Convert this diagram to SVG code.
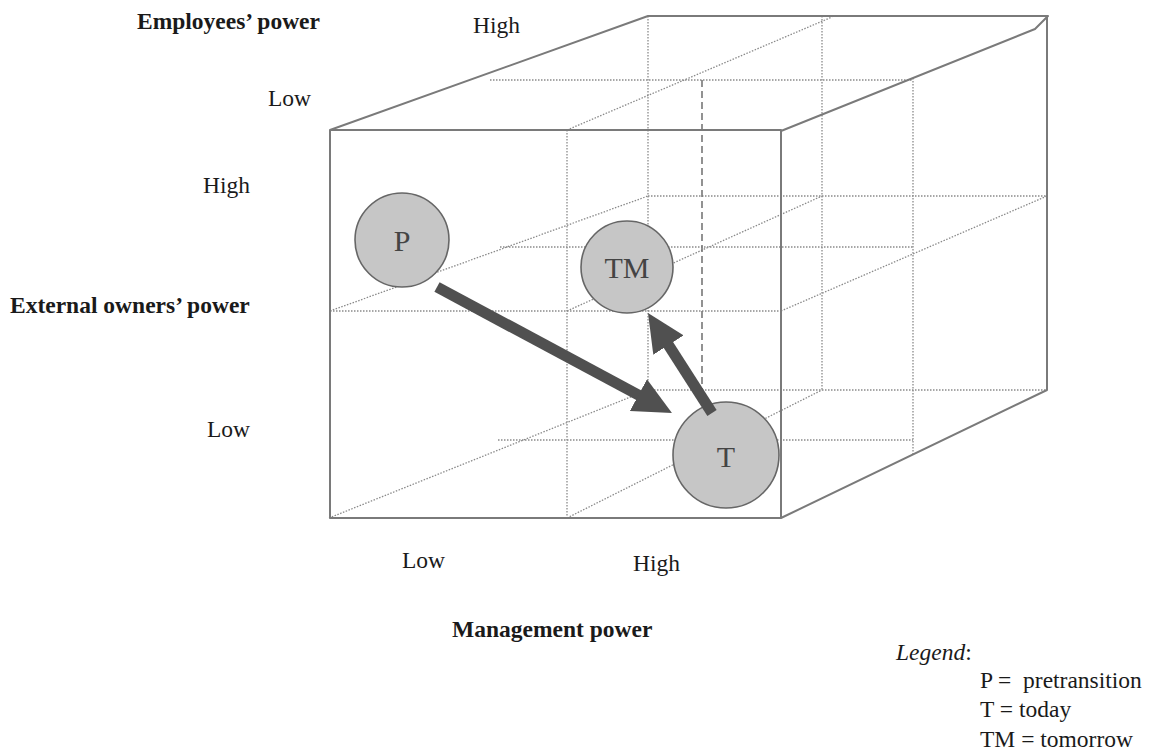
<svg xmlns="http://www.w3.org/2000/svg" width="1150" height="751" viewBox="0 0 1150 751">
<style>
.edge{fill:none;stroke:#7a7a7a;stroke-width:2;stroke-linejoin:round}
.grid{fill:none;stroke:#8a8a8a;stroke-width:1.3;stroke-dasharray:1.5 1.5}
.dash{fill:none;stroke:#777;stroke-width:1.6;stroke-dasharray:7 4}
.ball{fill:#c6c6c6;stroke:#666;stroke-width:1.6}
.arrow{fill:none;stroke:#505050;stroke-width:11;marker-end:url(#head)}
text{font-family:"Liberation Serif","Times New Roman",serif;font-size:23.5px;fill:#1a1a1a}
.b{font-weight:bold}
.ballText{font-size:30px;fill:#444;text-anchor:middle}
</style>
<defs>
<marker id="head" markerUnits="userSpaceOnUse" viewBox="0 0 38 36" markerWidth="38" markerHeight="36" refX="20" refY="18" orient="auto">
<path d="M0,0 L38,18 L0,36 z" fill="#505050"/>
</marker>
</defs>
<g id="cube">
<g id="grid-lines">
<line class="grid" x1="567" y1="130" x2="567" y2="518"/>
<line class="grid" x1="330" y1="311" x2="781" y2="311"/>
<line class="grid" x1="567" y1="130" x2="832" y2="17"/>
<line class="grid" x1="490" y1="80" x2="913" y2="80"/>
<line class="grid" x1="648" y1="16" x2="648" y2="390"/>
<line class="grid" x1="822" y1="16" x2="822" y2="390"/>
<line class="grid" x1="648" y1="196" x2="1047" y2="196"/>
<line class="grid" x1="648" y1="390" x2="1047" y2="390"/>
<line class="grid" x1="500" y1="247" x2="913" y2="247"/>
<line class="grid" x1="498" y1="440" x2="913" y2="440"/>
<line class="grid" x1="913" y1="78" x2="913" y2="454"/>
<line class="grid" x1="330" y1="311" x2="648" y2="196"/>
<line class="grid" x1="567" y1="311" x2="822" y2="196"/>
<line class="grid" x1="781" y1="311" x2="1047" y2="196"/>
<line class="grid" x1="329" y1="518" x2="648" y2="390"/>
<line class="grid" x1="567" y1="518" x2="822" y2="390"/>
<line class="dash" x1="702" y1="80" x2="702" y2="392"/>
</g>
<g id="cube-edges">
<rect class="edge" x="330" y="130" width="451" height="388"/>
<polyline class="edge" points="330,130 648,16 1048,16 1035,29 781,131"/>
<polyline class="edge" points="1047,16 1047,390 781,518"/>
</g>
</g>
<g id="node-P">
<circle class="ball" cx="402" cy="240" r="47"/>
<text class="ballText" x="402" y="251">P</text>
</g>
<g id="node-TM">
<circle class="ball" cx="627" cy="267" r="46"/>
<text class="ballText" x="627" y="278">TM</text>
</g>
<g id="node-T">
<circle class="ball" cx="726" cy="455" r="53"/>
<text class="ballText" x="726" y="467">T</text>
</g>
<g id="connectors">
<line class="arrow" x1="437" y1="287" x2="656.1" y2="404.5"/>
<line class="arrow" x1="712" y1="413" x2="657.7" y2="328.2"/>
</g>
<g id="labels">
<text class="b" x="137" y="29">Employees’ power</text>
<text x="473" y="33">High</text>
<text x="268" y="106">Low</text>
<text x="203" y="193">High</text>
<text class="b" x="10" y="313">External owners’ power</text>
<text x="207" y="437">Low</text>
<text x="402" y="568">Low</text>
<text x="633" y="571">High</text>
<text class="b" x="452" y="637">Management power</text>
</g>
<g id="legend">
<text x="896" y="660"><tspan font-style="italic">Legend</tspan>:</text>
<text x="980" y="688" xml:space="preserve">P =  pretransition</text>
<text x="980" y="717">T = today</text>
<text x="980" y="747">TM = tomorrow</text>
</g>
</svg>
